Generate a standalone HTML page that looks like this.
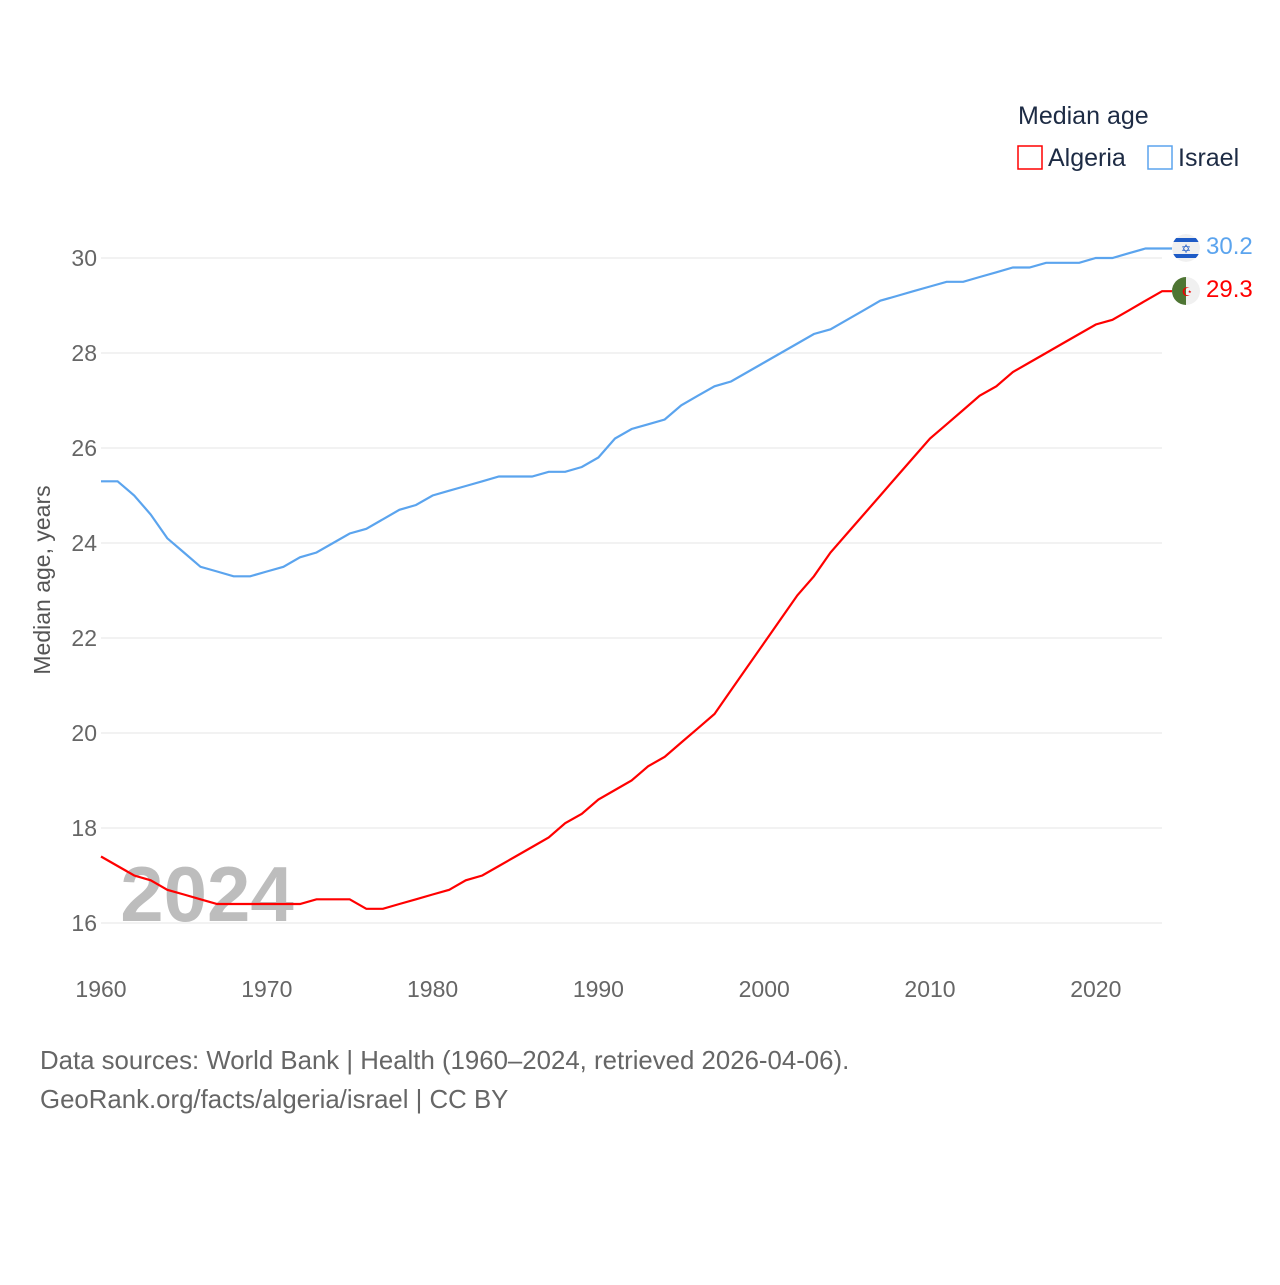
<!DOCTYPE html>
<html><head><meta charset="utf-8"><style>
body{margin:0;background:#fff;font-family:"Liberation Sans",sans-serif}
</style></head><body>
<svg id="chart" width="1280" height="1280" xmlns="http://www.w3.org/2000/svg" style="font-family:'Liberation Sans',sans-serif">
<defs><clipPath id="fc"><circle cx="1186" cy="248" r="14"/></clipPath></defs>
<g id="grid"></g>
<text x="207" y="921" font-size="78" font-weight="bold" fill="#bdbdbd" text-anchor="middle">2024</text>
<g id="lines"></g>
<text transform="translate(50,580) rotate(-90)" font-size="23" fill="#555" text-anchor="middle">Median age, years</text>
<text x="1018" y="124" font-size="25" fill="#1d2b44">Median age</text>
<g><rect x="1018" y="146" width="24" height="23" fill="none" stroke="#ff0000" stroke-width="1.5"/><text x="1048" y="166" font-size="25" fill="#1d2b44">Algeria</text></g>
<g><rect x="1148" y="146" width="24" height="23" fill="none" stroke="#5ba4ee" stroke-width="1.5"/><text x="1178" y="166" font-size="25" fill="#1d2b44">Israel</text></g>
<g clip-path="url(#fc)"><circle cx="1186" cy="248" r="14" fill="#f0f0f0"/><rect x="1172" y="238" width="28" height="4" fill="#1e5bc6"/><rect x="1172" y="254" width="28" height="4" fill="#1e5bc6"/><text x="1186" y="253" font-size="12" fill="#1e5bc6" text-anchor="middle">✡</text></g>
<g><circle cx="1186" cy="291" r="14" fill="#f0f0f0"/><path d="M1186 277 A14 14 0 0 0 1186 305 Z" fill="#4e7533"/><text x="1187" y="296" font-size="12" fill="#e00" text-anchor="middle">☪</text></g>
<text x="1206" y="254" font-size="24" fill="#5ba4ee">30.2</text>
<text x="1206" y="297" font-size="24" fill="#ff0000">29.3</text>
<text x="40" y="1069" font-size="25.8" fill="#666">Data sources: World Bank | Health (1960–2024, retrieved 2026-04-06).</text>
<text x="40" y="1108" font-size="25.8" fill="#666">GeoRank.org/facts/algeria/israel | CC BY</text>
</svg>
<script>
const years=[];for(let y=1960;y<=2024;y++)years.push(y);
const israel=[25.3,25.3,25.0,24.6,24.1,23.8,23.5,23.4,23.3,23.3,23.4,23.5,23.7,23.8,24.0,24.2,24.3,24.5,24.7,24.8,25.0,25.1,25.2,25.3,25.4,25.4,25.4,25.5,25.5,25.6,25.8,26.2,26.4,26.5,26.6,26.9,27.1,27.3,27.4,27.6,27.8,28.0,28.2,28.4,28.5,28.7,28.9,29.1,29.2,29.3,29.4,29.5,29.5,29.6,29.7,29.8,29.8,29.9,29.9,29.9,30.0,30.0,30.1,30.2,30.2];
const algeria=[17.4,17.2,17.0,16.9,16.7,16.6,16.5,16.4,16.4,16.4,16.4,16.4,16.4,16.5,16.5,16.5,16.3,16.3,16.4,16.5,16.6,16.7,16.9,17.0,17.2,17.4,17.6,17.8,18.1,18.3,18.6,18.8,19.0,19.3,19.5,19.8,20.1,20.4,20.9,21.4,21.9,22.4,22.9,23.3,23.8,24.2,24.6,25.0,25.4,25.8,26.2,26.5,26.8,27.1,27.3,27.6,27.8,28.0,28.2,28.4,28.6,28.7,28.9,29.1,29.3];
const yTicks=[16,18,20,22,24,26,28,30];
const xTicks=[1960,1970,1980,1990,2000,2010,2020];
const X=y=>101+(y-1960)*16.58;
const Y=v=>258+(30-v)*47.5;
const NS="http://www.w3.org/2000/svg";
const grid=document.getElementById('grid');
yTicks.forEach(t=>{
  const l=document.createElementNS(NS,'line');
  l.setAttribute('x1',101);l.setAttribute('x2',1162);l.setAttribute('y1',Y(t));l.setAttribute('y2',Y(t));
  l.setAttribute('stroke','#e6e6e6');l.setAttribute('stroke-width',1);
  
  
  grid.appendChild(l);
  const tx=document.createElementNS(NS,'text');
  tx.setAttribute('x',97);tx.setAttribute('y',Y(t)+8);tx.setAttribute('text-anchor','end');
  tx.setAttribute('font-size',23);tx.setAttribute('fill','#666');tx.textContent=t;
  
  
  grid.appendChild(tx);
});
xTicks.forEach(t=>{
  const tx=document.createElementNS(NS,'text');
  tx.setAttribute('x',X(t));tx.setAttribute('y',997);tx.setAttribute('text-anchor','middle');
  tx.setAttribute('font-size',23);tx.setAttribute('fill','#666');tx.textContent=t;
  
  
  grid.appendChild(tx);
});
const lines=document.getElementById('lines');
function draw(vals,color,name,endX){
  let d=vals.map((v,i)=>(i?'L':'M')+X(years[i]).toFixed(1)+' '+Y(v).toFixed(1)).join(' ');
  d+=' L'+endX+' '+Y(vals[vals.length-1]).toFixed(1);
  const p=document.createElementNS(NS,'path');
  p.setAttribute('d',d);p.setAttribute('fill','none');p.setAttribute('stroke',color);p.setAttribute('stroke-width',2.2);
  
  
  lines.appendChild(p);
}
draw(israel,'#5ba4ee','israel-line',1172);
draw(algeria,'#ff0000','algeria-line',1172);
</script>
</body></html>
